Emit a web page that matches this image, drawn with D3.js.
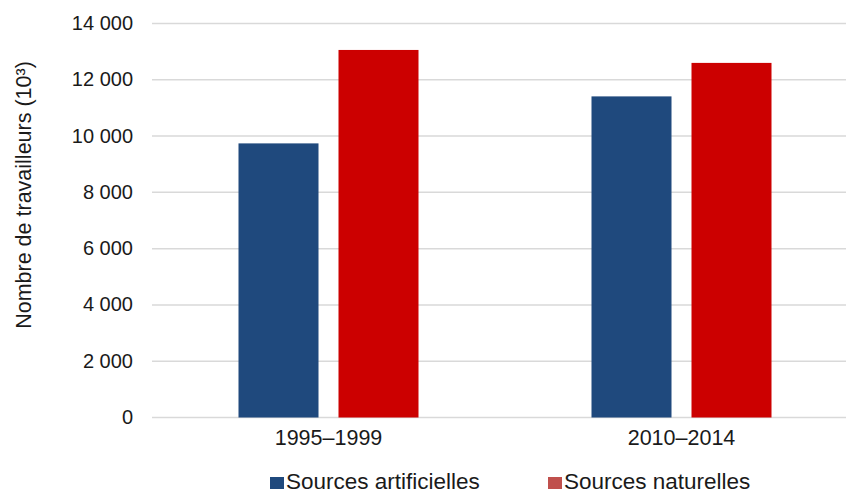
<!DOCTYPE html>
<html lang="fr">
<head>
<meta charset="utf-8">
<script src="https://cdn.jsdelivr.net/npm/d3@7"></script>
<style>
  html, body { margin: 0; padding: 0; background: #fff; }
  svg text { font-family: "Liberation Sans", Arial, sans-serif; fill: #1a1a1a; }
</style>
</head>
<body>
<svg id="chart" width="846" height="493"></svg>
<script>
// Workers exposed to ionising radiation, by source and period (thousands)
const categories = ["1995–1999", "2010–2014"];
const seriesNames = ["Sources artificielles", "Sources naturelles"];
const artificialValues = [9740, 11410];
const naturalValues = [13060, 12600];
const yTickValues = [0, 2000, 4000, 6000, 8000, 10000, 12000, 14000];
const yTitle = "Nombre de travailleurs (10³)";

const barColors = ["#1F497D", "#CC0000"];
const legendColors = ["#1F497D", "#C0504D"];

const tickFontSize = 20;
const categoryFontSize = 21.5;
const titleFontSize = 21.5;
const legendFontSize = 22.5;

const svg = d3.select("#chart");

const plot = { left: 152, right: 858, top: 23.5, bottom: 417.5 };

const y = d3.scaleLinear().domain([0, 14000]).range([plot.bottom, plot.top]);
const x0 = d3.scaleBand().domain(categories).range([plot.left, plot.right]);
const x1 = d3.scaleBand().domain(seriesNames)
  .range([x0.bandwidth() / 2 - 100, x0.bandwidth() / 2 + 100])
  .paddingInner(0.2).paddingOuter(0.1);

const fr = d3.formatLocale({ decimal: ",", thousands: "\u00a0", grouping: [3], currency: ["", ""] });
const fmt = fr.format(",d");

// Horizontal gridlines
svg.append("g")
  .selectAll("line")
  .data(yTickValues)
  .join("line")
  .attr("x1", plot.left).attr("x2", 846)
  .attr("y1", d => y(d)).attr("y2", d => y(d))
  .attr("stroke", "#d9d9d9").attr("stroke-width", 1.5);

// Y axis labels
const yAxis = d3.axisLeft(y).tickValues(yTickValues).tickFormat(fmt).tickSize(0).tickPadding(0);
svg.append("g")
  .attr("transform", `translate(133,0)`)
  .call(yAxis)
  .call(g => g.select(".domain").remove())
  .selectAll("text")
  .attr("font-size", tickFontSize)
  .attr("font-family", null)
  .attr("dy", "0.3em");

// Bars
const data = categories.map((c, i) => ({
  category: c,
  values: [
    { key: seriesNames[0], value: artificialValues[i] },
    { key: seriesNames[1], value: naturalValues[i] }
  ]
}));

svg.append("g")
  .selectAll("g")
  .data(data)
  .join("g")
  .attr("transform", d => `translate(${x0(d.category)},0)`)
  .selectAll("rect")
  .data(d => d.values)
  .join("rect")
  .attr("x", d => x1(d.key))
  .attr("width", x1.bandwidth())
  .attr("y", d => y(d.value))
  .attr("height", d => y(0) - y(d.value))
  .attr("fill", (d, i) => barColors[i]);

// X axis category labels
const xAxis = d3.axisBottom(x0).tickSize(0).tickPadding(0);
svg.append("g")
  .attr("transform", `translate(0,${plot.bottom})`)
  .call(xAxis)
  .call(g => g.select(".domain").remove())
  .selectAll("text")
  .attr("font-size", categoryFontSize)
  .attr("font-family", null)
  .attr("dy", null)
  .attr("y", 27.5);

// Y axis title
svg.append("text")
  .attr("transform", `translate(31,195) rotate(-90)`)
  .attr("text-anchor", "middle")
  .attr("font-size", titleFontSize)
  .text(yTitle);

// Legend
const legendX = [270, 548];
const legend = svg.append("g")
  .selectAll("g")
  .data(seriesNames)
  .join("g")
  .attr("transform", (d, i) => `translate(${legendX[i]},0)`);
legend.append("rect")
  .attr("x", 0).attr("y", 477)
  .attr("width", 14).attr("height", 12)
  .attr("fill", (d, i) => legendColors[i]);
legend.append("text")
  .attr("x", 16).attr("y", 488.5)
  .attr("font-size", legendFontSize)
  .text(d => d);
</script>
</body>
</html>
